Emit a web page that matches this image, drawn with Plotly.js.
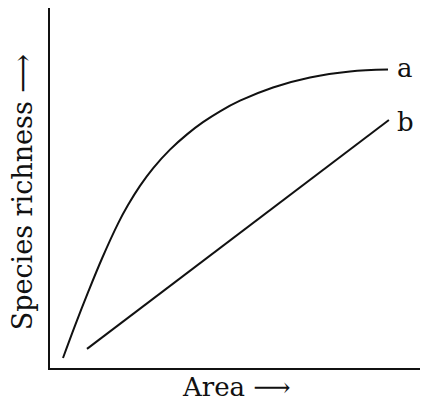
<!DOCTYPE html>
<html><head><meta charset="utf-8">
<script src="https://cdn.plot.ly/plotly-3.0.1.min.js"></script>
<style>html,body{margin:0;padding:0;background:#fff;}</style>
</head><body><div id="chart" style="width:422px;height:401px;"></div>
<script>
// Curve a: species-area (rapid rise then saturation)
const areaA = [3.51, 6.76, 10.27, 14.05, 18.38, 21.08, 24.32, 27.84, 32.43, 37.03, 41.35, 45.95, 51.35, 60.27, 70.27, 81.08, 91.35];
const richA = [2.78, 11.78, 21.0, 30.42, 40.11, 45.25, 50.58, 55.46, 60.65, 64.9, 68.28, 71.31, 74.25, 77.92, 80.69, 82.36, 82.89];
// Line b: straight line
const areaB = [10.0, 91.6];
const richB = [5.3, 68.9];
const curveLabels = ['a', 'b'];

const data = [
  {x: areaA, y: richA, mode: 'lines', line: {color: '#111', width: 2, shape: 'spline', smoothing: 1}, hoverinfo: 'skip'},
  {x: areaB, y: richB, mode: 'lines', line: {color: '#111', width: 2}, hoverinfo: 'skip'}
];
const font = {family: 'DejaVu Serif, serif', color: '#111'};
const layout = {
  width: 422, height: 401,
  margin: {l: 50, r: 2, t: 8, b: 33},
  paper_bgcolor: '#fff', plot_bgcolor: '#fff',
  showlegend: false,
  xaxis: {range: [0, 100], showline: true, linecolor: '#111', linewidth: 2,
          showgrid: false, zeroline: false, showticklabels: false, ticks: ''},
  yaxis: {range: [0, 100], showline: true, linecolor: '#111', linewidth: 2,
          showgrid: false, zeroline: false, showticklabels: false, ticks: ''},
  annotations: [
    {x: areaA[areaA.length-1] + 1.8, y: richA[richA.length-1] + 0.5, xref: 'x', yref: 'y',
     text: curveLabels[0], showarrow: false, xanchor: 'left', yanchor: 'middle',
     font: Object.assign({size: 26}, font)},
    {x: areaB[1] + 1.6, y: richB[1] - 0.5, xref: 'x', yref: 'y',
     text: curveLabels[1], showarrow: false, xanchor: 'left', yanchor: 'middle',
     font: Object.assign({size: 26}, font)},
    {x: 0.503, y: -0.052, xref: 'paper', yref: 'paper', text: 'Area ⟶',
     showarrow: false, xanchor: 'center', yanchor: 'middle',
     font: Object.assign({size: 26}, font)},
    {x: -0.072, y: 0.489, xref: 'paper', yref: 'paper', text: 'Species richness ⟶',
     textangle: -90, showarrow: false, xanchor: 'center', yanchor: 'middle',
     font: Object.assign({size: 27}, font)}
  ]
};
Plotly.newPlot('chart', data, layout, {staticPlot: true, displayModeBar: false});
</script></body></html>
